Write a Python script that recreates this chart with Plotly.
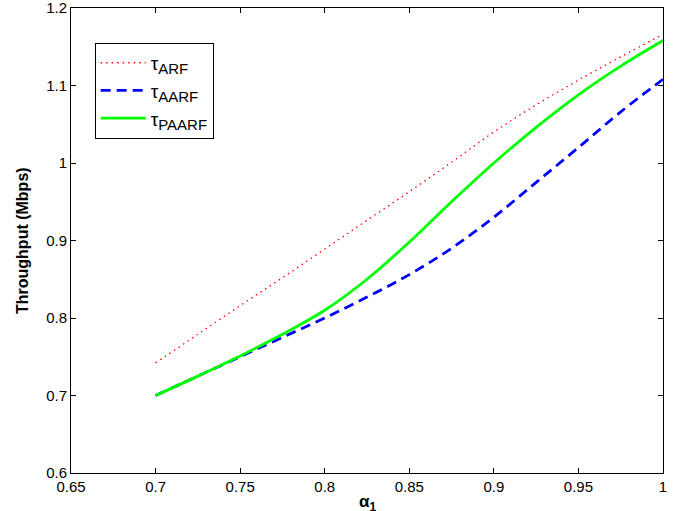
import plotly.graph_objects as go

alpha1 = [0.70, 0.725, 0.75, 0.775, 0.80, 0.825, 0.85, 0.875, 0.90, 0.925, 0.95, 0.975, 1.0]
tau_arf = [0.742, 0.779, 0.816, 0.852, 0.889, 0.926, 0.963, 1.001, 1.040, 1.075, 1.107, 1.137, 1.166]
tau_aarf = [0.700, 0.725, 0.750, 0.775, 0.800, 0.827, 0.856, 0.890, 0.930, 0.975, 1.020, 1.066, 1.108]
tau_paarf = [0.700, 0.725, 0.751, 0.779, 0.810, 0.850, 0.898, 0.950, 1.000, 1.046, 1.088, 1.125, 1.158]

series_names = ["ARF", "AARF", "PAARF"]

x_ticks = [0.65, 0.7, 0.75, 0.8, 0.85, 0.9, 0.95, 1.0]
x_ticktext = ["0.65", "0.7", "0.75", "0.8", "0.85", "0.9", "0.95", "1"]
y_ticks = [0.6, 0.7, 0.8, 0.9, 1.0, 1.1, 1.2]
y_ticktext = ["0.6", "0.7", "0.8", "0.9", "1", "1.1", "1.2"]

font_family = "Liberation Sans, Arial, sans-serif"


def legend_name(sub):
    return 'τ<sub><span style="font-size:15px">' + sub + '</span></sub>'


fig = go.Figure()
fig.add_trace(go.Scatter(x=alpha1, y=tau_arf, mode="lines", name=legend_name(series_names[0]),
                         line=dict(color="#ff0000", width=1.3, dash="1.5px,4px", shape="spline")))
fig.add_trace(go.Scatter(x=alpha1, y=tau_aarf, mode="lines", name=legend_name(series_names[1]),
                         line=dict(color="#0000ff", width=2.8, dash="10px,6px", shape="spline")))
fig.add_trace(go.Scatter(x=alpha1, y=tau_paarf, mode="lines", name=legend_name(series_names[2]),
                         line=dict(color="#00ff00", width=2.8, shape="spline")))

axis_common = dict(showline=True, linecolor="black", linewidth=1, mirror="allticks",
                   ticks="inside", ticklen=5, tickcolor="black", showgrid=False, zeroline=False,
                   automargin=False, ticklabeloverflow="allow",
                   tickfont=dict(family=font_family, size=15, color="black"))

eps = 1e-6
fig.update_xaxes(range=[0.65 - eps, 1.0 + eps], tickvals=x_ticks, ticktext=x_ticktext, **axis_common)
fig.update_yaxes(range=[0.6 - eps, 1.2 + eps], tickvals=y_ticks, ticktext=y_ticktext, **axis_common)

fig.add_annotation(text="<b>α<sub>1</sub></b>", xref="paper", yref="paper",
                   x=0.5, y=0, yshift=-17, xanchor="center", yanchor="top", showarrow=False,
                   font=dict(family=font_family, size=17, color="black"))
fig.add_annotation(text="<b>Throughput (Mbps)</b>", xref="paper", yref="paper",
                   x=0, y=0.5, xshift=-38, xanchor="right", yanchor="middle", textangle=-90,
                   showarrow=False, font=dict(family=font_family, size=16, color="black"))

fig.update_layout(
    width=673, height=511,
    margin=dict(l=71, r=10, t=8, b=38),
    paper_bgcolor="white", plot_bgcolor="white",
    font=dict(family=font_family, color="black"),
    legend=dict(x=0.04, y=0.925, xanchor="left", yanchor="top",
                bgcolor="white", bordercolor="black", borderwidth=1,
                font=dict(family=font_family, size=19, color="black"),
                itemwidth=45, tracegroupgap=0),
)

fig.write_html("out.html", config={"displayModeBar": False},
               post_script="document.body.style.margin='0';document.body.style.overflow='hidden';")
